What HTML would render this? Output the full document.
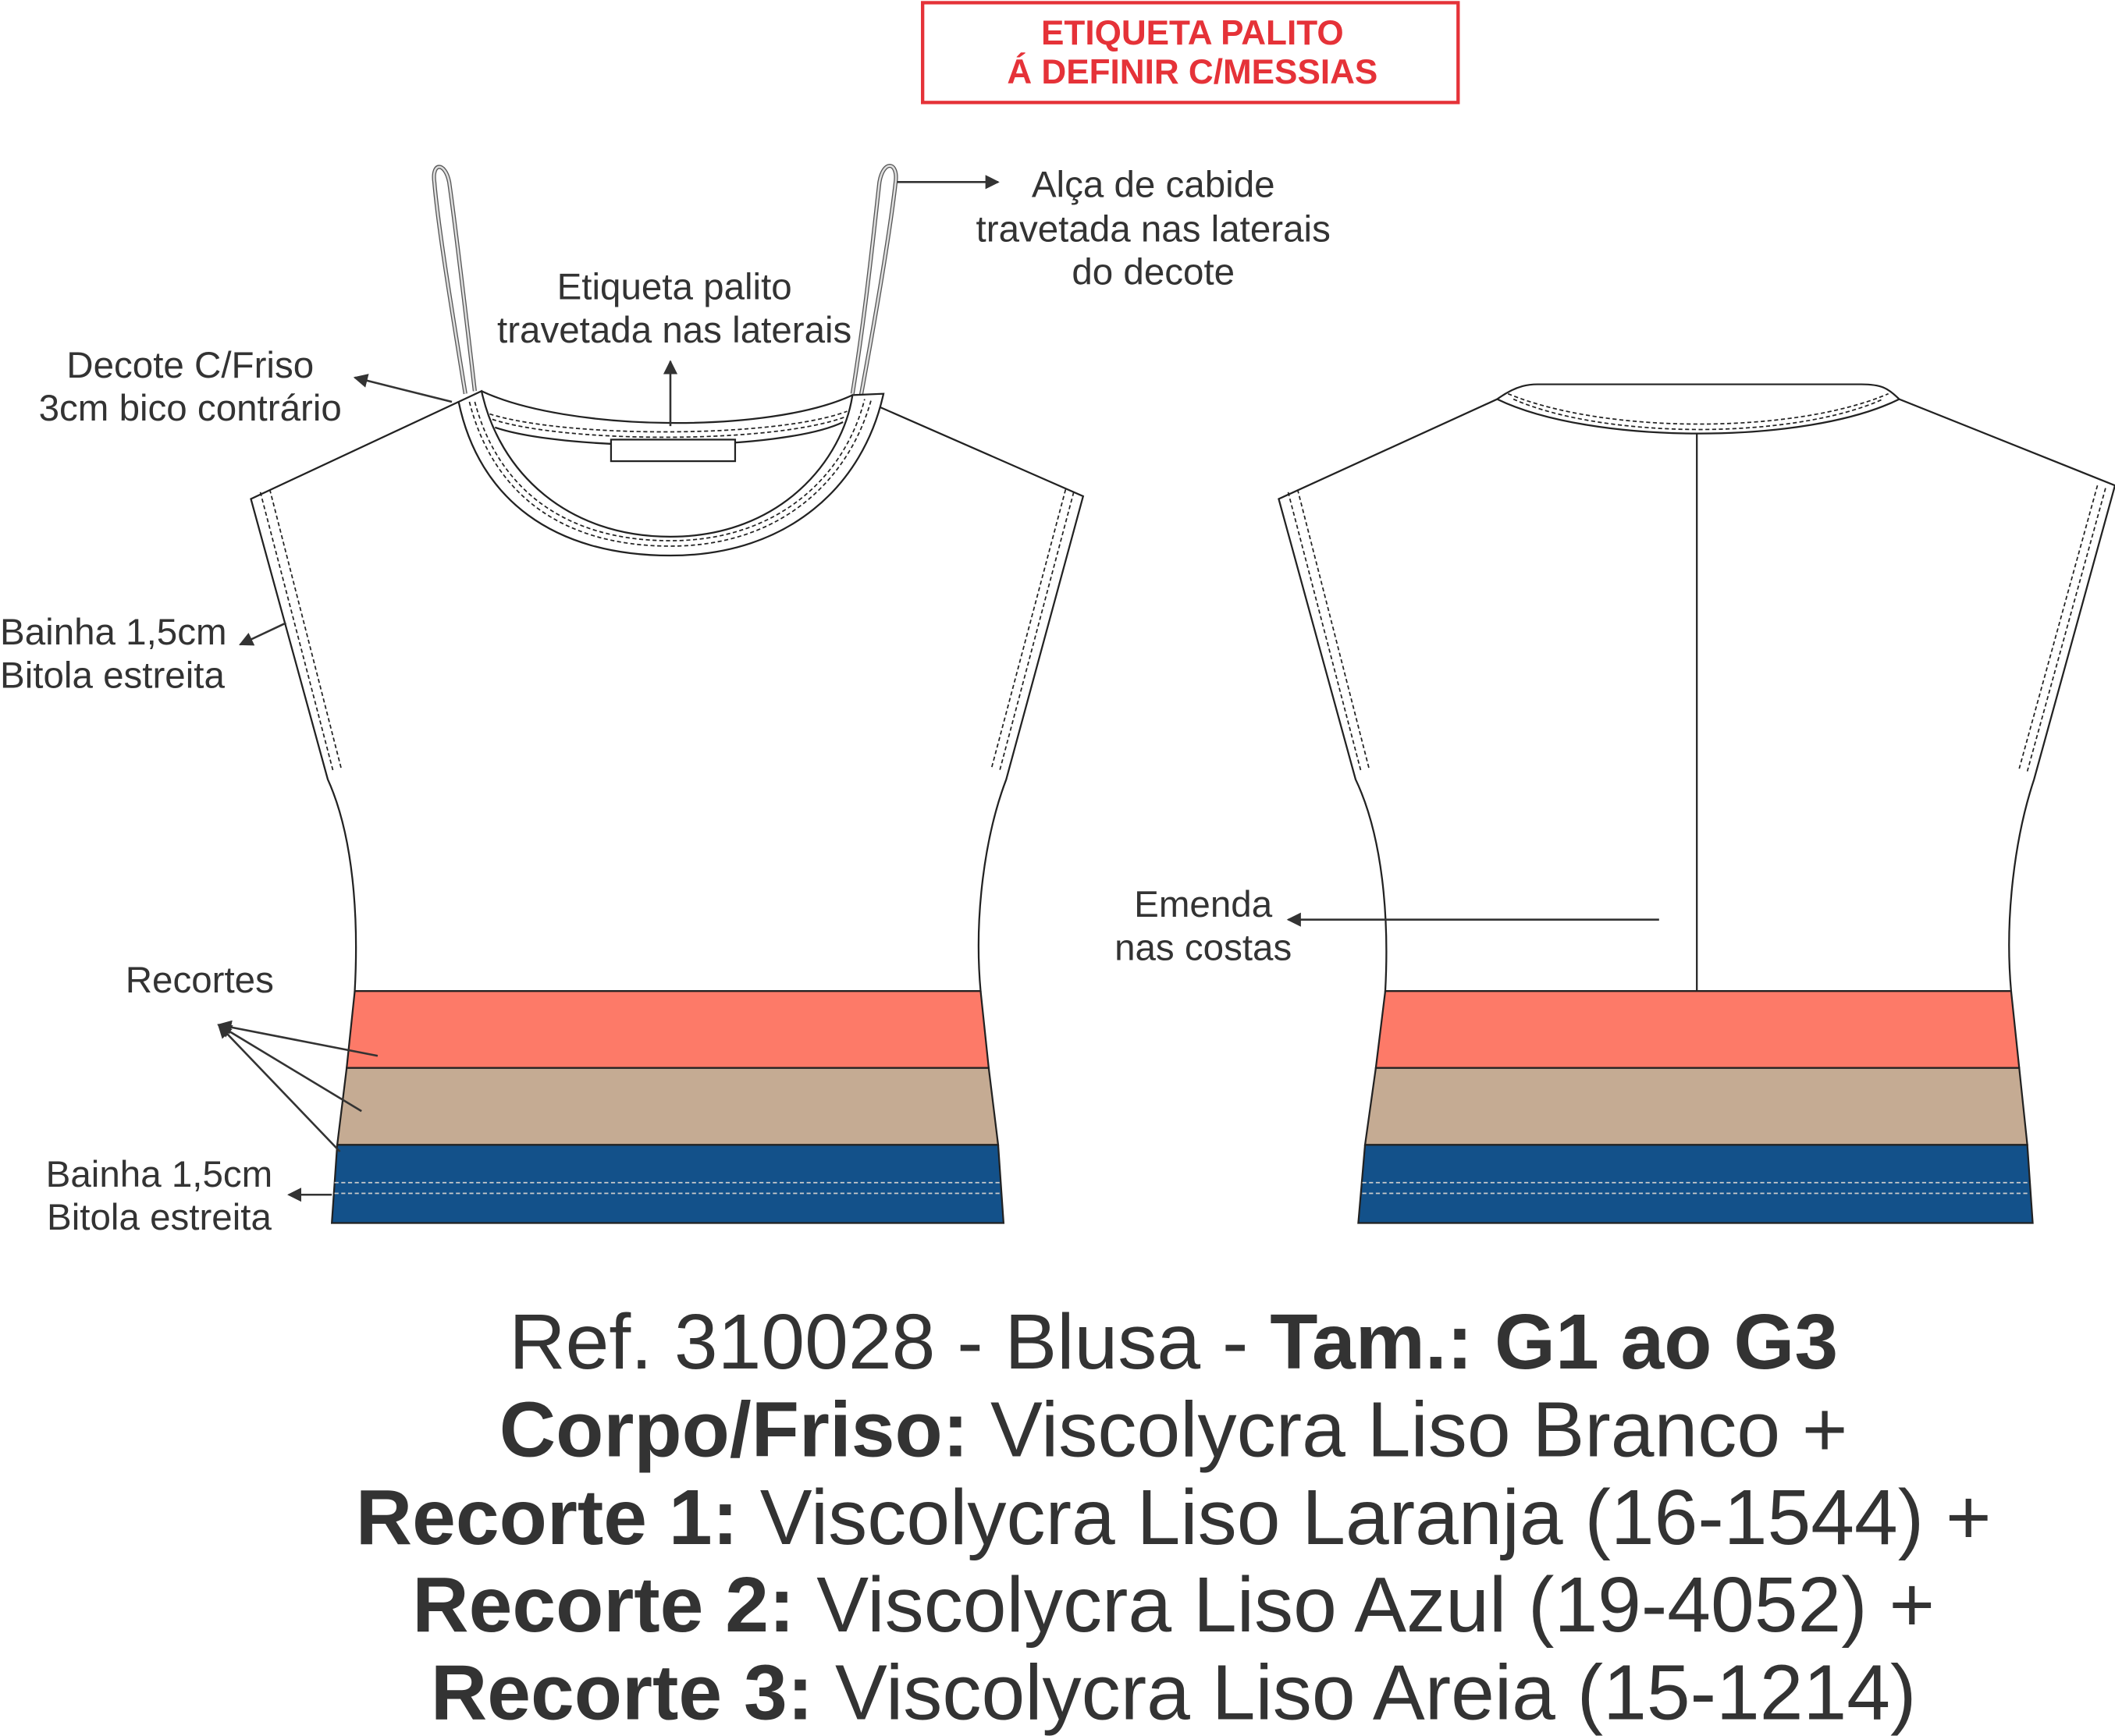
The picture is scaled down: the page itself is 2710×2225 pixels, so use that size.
<!DOCTYPE html>
<html><head><meta charset="utf-8"><style>
html,body{margin:0;padding:0;background:#fff}
svg{display:block}
text{font-family:"Liberation Sans",sans-serif;fill:#333}
</style></head><body>
<svg width="2710" height="2225" viewBox="0 0 1568 1287.4" xmlns="http://www.w3.org/2000/svg">
<defs>
<marker id="ar" viewBox="0 0 10 10" refX="9" refY="5" markerWidth="7" markerHeight="7" orient="auto"><path d="M0,0 L10,5 L0,10 z" fill="#333"/></marker>
</defs>
<rect x="684" y="2" width="397" height="74" fill="none" stroke="#e53238" stroke-width="2.5"/>
<text x="884" y="33" text-anchor="middle" font-size="25.5" font-weight="bold" style="fill:#e53238">ETIQUETA PALITO</text>
<text x="884" y="62" text-anchor="middle" font-size="25.5" font-weight="bold" style="fill:#e53238">Á DEFINIR C/MESSIAS</text>

<g fill="none" stroke="#222" stroke-width="1.3">
<path d="M345,292 C335,230 325,170 322,135 C320,120 330,120 333,135 C338,170 345,230 352,290" stroke="#555" stroke-width="3"/>
<path d="M345,292 C335,230 325,170 322,135 C320,120 330,120 333,135 C338,170 345,230 352,290" stroke="#ddd" stroke-width="1.5"/>
<path d="M632,292 C642,230 648,170 652,135 C655,118 666,120 664,135 C660,170 650,230 638,295" stroke="#555" stroke-width="3"/>
<path d="M632,292 C642,230 648,170 652,135 C655,118 666,120 664,135 C660,170 650,230 638,295" stroke="#ddd" stroke-width="1.5"/>
<path d="M340,298 L186,370 L243,578 C262,620 266,680 263,735 L727,735 C722,680 730,620 746,578 L803,368 L632,293" fill="#fff"/>
<path d="M193,365 L247,572 M200,363 L253,570 M796,365 L741,572 M790,363 L735,570" stroke-dasharray="3,2" stroke-width="1"/>
<path d="M340,298 C355,370 410,412 497,412 C585,412 640,360 655,292 L632,293 C625,340 580,398 497,398 C420,398 370,350 357,290 Z" fill="#fff"/>
<path d="M357,290 C420,320 570,322 632,293"/>
<path d="M367,317 C420,335 580,335 625,313"/>
<path d="M348,298 C365,365 415,405 497,405 C580,405 630,355 646,296 M352,298 C369,362 418,401 497,401 C578,401 627,352 641,296 M363,307 C420,325 575,325 628,305 M365,311 C420,329 575,329 627,309" stroke-dasharray="3,2" stroke-width="1"/>
<rect x="453" y="326" width="92" height="16" fill="#fff"/>
<path d="M263,735 L727,735 L733,792 L257,792 Z" fill="#fd7a68"/>
<path d="M257,792 L733,792 L740,849 L250,849 Z" fill="#c5ab93"/>
<path d="M250,849 L740,849 L744,907 L246,907 Z" fill="#13518a"/>
<path d="M248,877 L742,877 M248,885 L742,885" stroke="#ccc" stroke-dasharray="3,2" stroke-width="1"/>

<path d="M1110,296 L948,370 L1005,578 C1025,620 1030,680 1027,735 L1491,735 C1486,680 1494,620 1508,578 L1568,360 L1408,296 C1340,330 1180,330 1110,296 Z" fill="#fff"/>
<path d="M1110,296 C1125,285 1135,285 1140,285 L1380,285 C1395,285 1400,288 1408,296"/>
<path d="M1118,292 C1190,322 1330,322 1400,292 M1122,296 C1190,326 1330,326 1396,296" stroke-dasharray="3,2" stroke-width="1"/>
<path d="M955,365 L1009,572 M962,363 L1015,570 M1561,362 L1503,572 M1555,360 L1497,570" stroke-dasharray="3,2" stroke-width="1"/>
<path d="M1258,322 L1258,735"/>
<path d="M1027,735 L1491,735 L1497,792 L1020,792 Z" fill="#fd7a68"/>
<path d="M1020,792 L1497,792 L1503,849 L1012,849 Z" fill="#c5ab93"/>
<path d="M1012,849 L1503,849 L1507,907 L1007,907 Z" fill="#13518a"/>
<path d="M1010,877 L1505,877 M1010,885 L1505,885" stroke="#ccc" stroke-dasharray="3,2" stroke-width="1"/>
</g>

<g stroke="#333" stroke-width="1.5" fill="none">
<path d="M665,135 L740,135" marker-end="url(#ar)"/>
<path d="M497,316 L497,268" marker-end="url(#ar)"/>
<path d="M335,298 L263,280" marker-end="url(#ar)"/>
<path d="M212,462 L178,478" marker-end="url(#ar)"/>
<path d="M280,783 L162,760" marker-end="url(#ar)"/>
<path d="M268,824 L162,760" marker-end="url(#ar)"/>
<path d="M252,854 L162,760" marker-end="url(#ar)"/>
<path d="M246,886 L214,886" marker-end="url(#ar)"/>
<path d="M1230,682 L955,682" marker-end="url(#ar)"/>
</g>

<g font-size="27.5">
<text x="855" y="146" text-anchor="middle">Alça de cabide</text>
<text x="855" y="179" text-anchor="middle">travetada nas laterais</text>
<text x="855" y="211" text-anchor="middle">do decote</text>
<text x="500" y="222" text-anchor="middle">Etiqueta palito</text>
<text x="500" y="254" text-anchor="middle">travetada nas laterais</text>
<text x="141" y="280" text-anchor="middle">Decote C/Friso</text>
<text x="141" y="312" text-anchor="middle">3cm bico contrário</text>
<text x="0" y="478">Bainha 1,5cm</text>
<text x="0" y="510">Bitola estreita</text>
<text x="148" y="736" text-anchor="middle">Recortes</text>
<text x="118" y="880" text-anchor="middle">Bainha 1,5cm</text>
<text x="118" y="912" text-anchor="middle">Bitola estreita</text>
<text x="892" y="680" text-anchor="middle">Emenda</text>
<text x="892" y="712" text-anchor="middle">nas costas</text>
</g>

<g font-size="58" text-anchor="middle">
<text x="870" y="1015">Ref. 310028 - Blusa - <tspan font-weight="bold">Tam.: G1 ao G3</tspan></text>
<text x="870" y="1080"><tspan font-weight="bold">Corpo/Friso:</tspan> Viscolycra Liso Branco +</text>
<text x="870" y="1145"><tspan font-weight="bold">Recorte 1:</tspan> Viscolycra Liso Laranja (16-1544) +</text>
<text x="870" y="1210"><tspan font-weight="bold">Recorte 2:</tspan> Viscolycra Liso Azul (19-4052) +</text>
<text x="870" y="1275"><tspan font-weight="bold">Recorte 3:</tspan> Viscolycra Liso Areia (15-1214)</text>
</g>
</svg>
</body></html>
